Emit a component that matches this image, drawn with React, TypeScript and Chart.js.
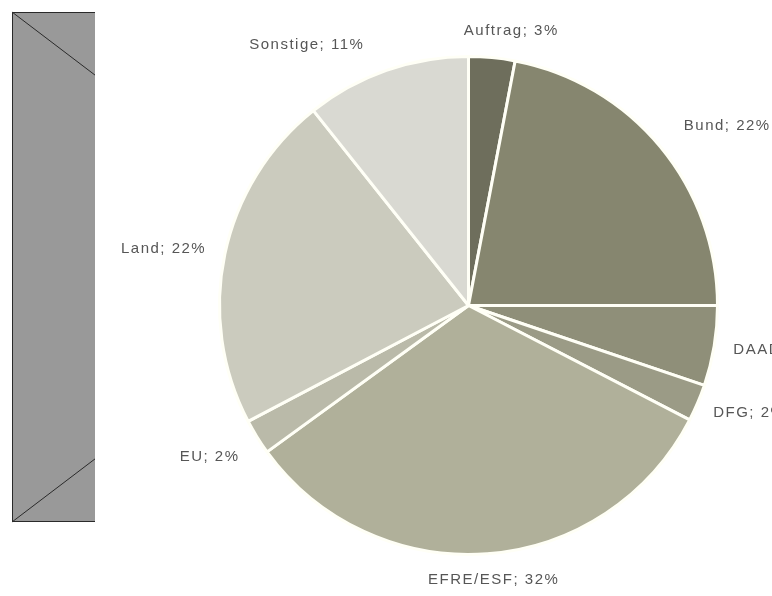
import React, { useEffect, useRef } from "react";
import { Chart, registerables } from "chart.js";

Chart.register(...registerables);

const categories = ["Auftrag", "Bund", "DAAD", "DFG", "EFRE/ESF", "EU", "Land", "Sonstige"];
const shares = [3.0, 22.0, 5.2, 2.4, 32.4, 2.3, 22.0, 10.7];
const sliceColors = ["#6e6e5c", "#86866f", "#8f8f79", "#9b9b86", "#b0b09a", "#babaa9", "#cbcbbe", "#d9d9d2"];

// small manual nudges for the text labels (as in the original, hand-placed)
const labelNudges: Record<string, [number, number]> = {
  Auftrag: [13, 0],
  Bund: [18, -4],
  Sonstige: [-54, -1],
  EU: [-5, 6],
};

const placeholderPlugin = {
  id: "placeholderBox",
  beforeDraw(chart: any) {
    const ctx = chart.ctx;
    ctx.save();
    ctx.fillStyle = "#ffffff";
    ctx.fillRect(0, 0, chart.width, chart.height);
    const x0 = 12, y0 = 12, x1 = 95, y1 = 522;
    ctx.fillStyle = "#999999";
    ctx.fillRect(x0, y0, x1 - x0, y1 - y0);
    ctx.strokeStyle = "#2a2a2a";
    ctx.lineWidth = 1;
    ctx.beginPath();
    ctx.moveTo(x1, y0 + 0.5);
    ctx.lineTo(x0 + 0.5, y0 + 0.5);
    ctx.lineTo(x0 + 0.5, y1 - 0.5);
    ctx.lineTo(x1, y1 - 0.5);
    ctx.stroke();
    const slope = (y1 - y0) / 671;
    ctx.beginPath();
    ctx.moveTo(x0, y0);
    ctx.lineTo(x1, y0 + (x1 - x0) * slope);
    ctx.moveTo(x0, y1);
    ctx.lineTo(x1, y1 - (x1 - x0) * slope);
    ctx.stroke();
    ctx.restore();
  },
};

const outsideLabelPlugin = {
  id: "outsideLabels",
  afterDraw(chart: any) {
    const ctx = chart.ctx;
    const meta = chart.getDatasetMeta(0);
    const data = chart.data.datasets[0].data as number[];
    const total = data.reduce((a, b) => a + b, 0);
    ctx.save();
    ctx.font = "15px 'Liberation Sans', Arial, sans-serif";
    (ctx as any).letterSpacing = "1.5px";
    ctx.fillStyle = "#565656";
    ctx.textAlign = "center";
    ctx.textBaseline = "middle";
    meta.data.forEach((arc: any, i: number) => {
      const { x, y, startAngle, endAngle, outerRadius } = arc.getProps(
        ["x", "y", "startAngle", "endAngle", "outerRadius"],
        true
      );
      const mid = (startAngle + endAngle) / 2;
      const dx = Math.cos(mid);
      const dy = Math.sin(mid);
      const name = chart.data.labels[i];
      const text = `${name}; ${Math.round((data[i] / total) * 100)}%`;
      const w = ctx.measureText(text).width;
      const h = 13;
      const dist = outerRadius + 20;
      let cx = x + dx * dist + dx * (w / 2);
      let cy = y + dy * dist + dy * (h / 2);
      const n = labelNudges[name];
      if (n) {
        cx += n[0];
        cy += n[1];
      }
      ctx.fillText(text, cx, cy);
    });
    ctx.restore();
  },
};

export default function App() {
  const canvasRef = useRef<HTMLCanvasElement | null>(null);

  useEffect(() => {
    if (!canvasRef.current) return;
    const chart = new Chart(canvasRef.current, {
      type: "pie",
      data: {
        labels: categories,
        datasets: [
          {
            data: shares,
            backgroundColor: sliceColors,
            borderColor: "#fffff6",
            borderWidth: 3,
          },
        ],
      },
      options: {
        animation: false,
        responsive: true,
        maintainAspectRatio: false,
        layout: { padding: { left: 218, right: 53, top: 55, bottom: 40 } },
        plugins: {
          legend: { display: false },
          tooltip: { enabled: false },
        },
      },
      plugins: [placeholderPlugin, outsideLabelPlugin],
    });
    return () => chart.destroy();
  }, []);

  return (
    <div
      style={{
        position: "fixed",
        left: 0,
        top: 0,
        width: 772,
        height: 596,
        background: "#ffffff",
      }}
    >
      <canvas ref={canvasRef} />
    </div>
  );
}
